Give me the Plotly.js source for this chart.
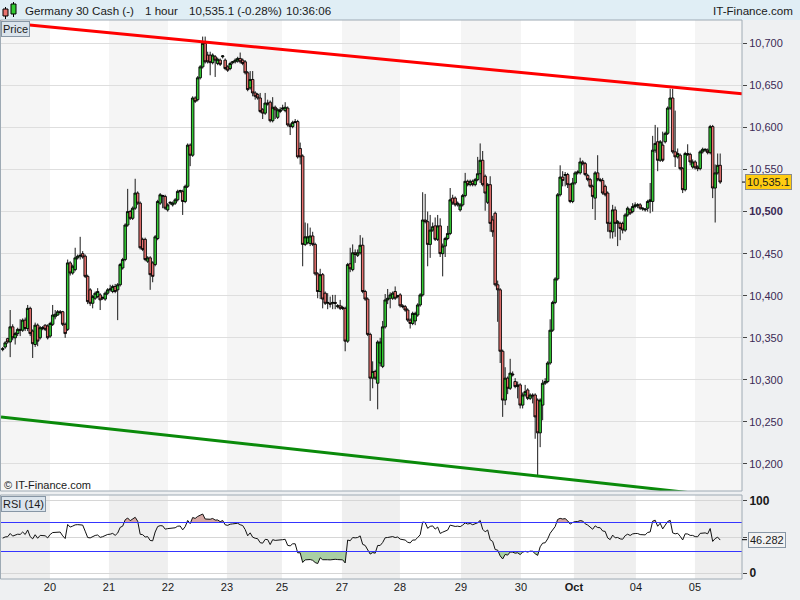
<!DOCTYPE html>
<html><head><meta charset="utf-8">
<script src="https://cdn.plot.ly/plotly-3.0.1.min.js"></script>
<style>html,body{margin:0;padding:0;background:#eef0f2;}#chart{width:800px;height:600px;}</style>
</head><body><div id="chart"></div>
<script>
// ---------- DATA ----------
const O = [10336,10339,10349,10345,10363,10350,10355,10360,10359,10371,10361,10385,10358,10342,10365,10350,10361,10365,10364,10352,
10366,10375,10377,10381,10381,10366,10360,10439,10427,10431,10445,10447,10450,10447,10423,10407,10391,10397,10399,10401,
10397,10396,10403,10407,10405,10411,10407,10413,10433,10443,10484,10500,10492,10504,10522,10510,10467,10467,10441,10445,
10439,10437,10468,10510,10518,10518,10502,10510,10508,10510,10514,10524,10524,10512,10530,10579,10567,10635,10633,10659,
10672,10700,10686,10686,10677,10684,10676,10680,10684,10680,10672,10670,10677,10678,10679,10682,10680,10678,10665,
10647,10657,10641,10639,10635,10621,10617,10629,10630,10608,10624,10612,10619,10622,10620,10623,10603,10601,10607,10607,
10575,10566,10461,10463,10462,10471,10461,10426,10405,10425,10403,10391,10391,10391,10392,10387,10388,10386,10385,10346,
10438,10431,10451,10448,10451,10460,10405,10396,10354,10302,10310,10296,10320,10316,10363,10395,10397,10397,10405,10399,
10401,10388,10387,10383,10371,10367,10370,10377,10389,10401,10490,10488,10461,10478,10483,10467,10483,10450,10459,10468,
10474,10516,10516,10508,10502,10508,10519,10536,10532,10536,10532,10538,10545,10561,10542,10511,10532,10490,
10498,10413,10407,10334,10276,10302,10290,10307,10298,10292,10294,10270,10282,10288,10278,10282,10282,10276,10237,10270,
10296,10298,10320,10359,10392,10420,10520,10541,10543,10544,10532,10512,10534,10546,10546,10559,10557,10543,10538,10530,
10516,10546,10538,10537,10530,10522,10486,10476,10502,10486,10486,10486,10478,10496,10502,10500,10506,10507,10508,10503,
10502,10504,10512,10512,10573,10583,10561,10579,10583,10593,10623,10635,10571,10565,10567,10551,10526,10569,10568,10553,
10559,10553,10551,10571,10573,10573,10570,10601,10528,10546,10555];
const H = [10339,10346,10350,10383,10366,10357,10362,10372,10373,10374,10389,10387,10360,10368,10367,10364,10364,10366,10366,10369,
10389,10383,10383,10383,10382,10368,10443,10441,10437,10457,10449,10470,10453,10449,10425,10409,10401,10405,10409,10403,
10399,10405,10409,10413,10413,10414,10415,10439,10445,10486,10527,10502,10506,10539,10524,10512,10469,10469,10447,10447,
10441,10472,10514,10522,10520,10520,10510,10512,10512,10516,10526,10526,10526,10532,10581,10581,10637,10637,10661,10674,
10708,10708,10690,10690,10688,10686,10683,10682,10686,10682,10674,10678,10679,10682,10684,10689,10682,10680,10667,
10667,10667,10643,10641,10641,10623,10641,10633,10632,10636,10626,10623,10624,10627,10630,10625,10605,10608,10610,10609,
10582,10568,10487,10486,10481,10476,10463,10428,10432,10427,10405,10403,10399,10401,10401,10390,10395,10388,10387,10439,
10457,10461,10455,10455,10472,10469,10407,10398,10356,10322,10312,10347,10350,10370,10402,10408,10404,10405,10411,10401,
10403,10390,10389,10385,10373,10381,10381,10391,10403,10523,10521,10500,10496,10487,10493,10496,10492,10462,10470,10483,
10528,10520,10518,10512,10510,10521,10546,10538,10538,10538,10540,10565,10581,10572,10544,10534,10542,10495,
10500,10418,10409,10336,10315,10304,10325,10310,10302,10298,10296,10285,10294,10290,10284,10284,10284,10278,10278,10300,
10302,10322,10372,10394,10422,10522,10555,10548,10547,10546,10534,10540,10548,10549,10564,10561,10559,10545,10540,10532,
10548,10567,10540,10540,10532,10524,10488,10508,10506,10490,10488,10488,10498,10506,10504,10510,10511,10510,10510,10505,
10504,10514,10534,10590,10603,10600,10585,10595,10595,10625,10646,10646,10620,10575,10569,10553,10571,10580,10570,10562,
10561,10555,10573,10576,10575,10575,10603,10603,10556,10569,10569];
const L = [10334,10337,10343,10327,10347,10342,10352,10352,10357,10358,10358,10352,10326,10339,10340,10348,10359,10358,10348,10350,
10364,10372,10376,10378,10364,10350,10358,10424,10425,10429,10443,10443,10444,10421,10390,10388,10385,10395,10397,10383,
10395,10394,10401,10405,10403,10403,10371,10411,10431,10441,10482,10490,10490,10502,10508,10455,10453,10441,10439,10407,
10416,10435,10466,10508,10504,10502,10500,10508,10506,10508,10512,10522,10496,10510,10528,10554,10565,10629,10631,10657,
10670,10676,10676,10662,10675,10660,10674,10673,10682,10668,10666,10668,10675,10676,10677,10676,10674,10663,10643,
10645,10637,10633,10633,10617,10610,10615,10626,10606,10606,10610,10610,10617,10620,10618,10601,10591,10599,10605,10563,
10556,10435,10459,10461,10459,10459,10424,10397,10396,10385,10389,10384,10386,10384,10384,10385,10383,10383,10334,10344,
10428,10429,10439,10446,10449,10403,10394,10352,10275,10290,10300,10265,10316,10314,10361,10390,10385,10395,10395,10397,
10386,10385,10381,10369,10361,10365,10365,10375,10387,10399,10486,10435,10445,10476,10465,10465,10446,10423,10446,10466,
10472,10508,10506,10506,10500,10506,10517,10530,10530,10530,10530,10536,10534,10530,10501,10509,10476,10470,
10411,10369,10320,10256,10270,10283,10288,10304,10290,10278,10266,10266,10280,10276,10276,10272,10230,10185,10220,10252,
10294,10296,10318,10357,10390,10418,10518,10530,10530,10528,10510,10510,10532,10544,10544,10555,10542,10536,10528,10503,
10490,10536,10535,10520,10518,10476,10468,10468,10470,10459,10466,10474,10476,10494,10496,10498,10504,10504,10502,10501,
10500,10500,10498,10500,10570,10548,10559,10559,10581,10591,10621,10569,10553,10563,10549,10522,10524,10566,10555,10551,
10550,10548,10549,10569,10571,10568,10568,10516,10487,10544,10533];
const C = [10337,10344,10345,10363,10350,10355,10360,10359,10371,10361,10385,10355,10343,10365,10346,10362,10362,10360,10350,10367,
10377,10378,10381,10380,10366,10355,10439,10427,10435,10445,10447,10448,10446,10423,10393,10391,10399,10403,10405,10395,
10398,10403,10407,10408,10411,10405,10413,10437,10443,10484,10500,10492,10504,10522,10510,10457,10455,10443,10445,10425,
10423,10470,10512,10520,10519,10504,10508,10511,10510,10514,10524,10525,10512,10530,10579,10567,10635,10631,10659,10672,
10700,10678,10678,10677,10686,10680,10681,10675,10685,10670,10668,10676,10678,10680,10682,10678,10676,10665,10645,
10657,10641,10637,10635,10619,10617,10629,10628,10608,10624,10621,10621,10621,10623,10624,10603,10601,10606,10606,10565,
10565,10461,10470,10470,10471,10461,10426,10405,10425,10396,10391,10392,10390,10392,10391,10388,10385,10385,10346,10437,
10432,10451,10449,10451,10460,10405,10396,10354,10302,10310,10302,10345,10345,10363,10395,10397,10401,10403,10397,10400,
10388,10387,10383,10371,10367,10379,10379,10389,10401,10490,10488,10461,10478,10482,10467,10483,10450,10459,10468,10474,
10514,10510,10508,10510,10508,10519,10536,10532,10536,10532,10538,10545,10561,10532,10522,10532,10486,10476,
10413,10407,10334,10276,10302,10290,10308,10306,10292,10294,10270,10282,10286,10278,10282,10281,10256,10237,10276,10296,
10298,10320,10359,10392,10420,10520,10541,10537,10544,10532,10512,10534,10546,10547,10559,10557,10544,10538,10530,10518,
10546,10538,10537,10522,10520,10486,10476,10502,10486,10488,10480,10478,10496,10504,10498,10506,10508,10508,10504,10504,
10503,10512,10514,10573,10581,10561,10583,10561,10593,10623,10635,10571,10565,10569,10551,10526,10569,10568,10559,10559,
10552,10551,10571,10574,10574,10570,10601,10528,10546,10555,10535.1];

// day starts (candle index positions) and their labels
const dayStart = [18.9, 42.5, 66.1, 89.7, 111.7, 135.7, 158.9, 183.3, 207.3, 228.5, 253.3, 276.9];
const dayLabels = ['20','21','22','23','25','27','28','29','30','<b>Oct</b>','04','05'];

// trend lines (value at left edge, value at right edge)
const resistanceY = [10725, 10640];
const supportY = [10256, 10159];

const priceTicks = [10200,10250,10300,10350,10400,10450,10500,10550,10600,10650,10700];
const priceTickText = ['10,200','10,250','10,300','10,350','10,400','10,450','<b>10,500</b>','10,550','10,600','10,650','10,700'];
const lastPrice = 10535.1;
const lastPriceText = '10,535.1';
const lastRsi = 46.282;
const rsiUpper = 70, rsiLower = 30;
const rsiPeriod = 14;
const rsiSeed = {gain: 7.5, loss: 8.0};

// ---------- RENDER ----------
const FONT = 'Liberation Sans, Arial, sans-serif';
const W=800, HT=600, ML=1, MR=58, MT=20, MB=21;
const PW=W-ML-MR, PH=HT-MT-MB;
const px = x => (x-ML)/PW;
const py = y => (HT-MB-y)/PH;
const xMin = -0.67, xMax = -0.67 + PW/2.5;
const idx = C.map((_, i) => i);

function wilderRSI(closes, n, seed){
  let ag = seed.gain, al = seed.loss;
  const out = [100 - 100/(1+ag/al)];
  for (let i=1;i<closes.length;i++){
    const d = closes[i]-closes[i-1];
    ag = (ag*(n-1) + Math.max(d,0))/n;
    al = (al*(n-1) + Math.max(-d,0))/n;
    out.push(al===0 ? 100 : 100 - 100/(1+ag/al));
  }
  return out;
}
const rsi = wilderRSI(C, rsiPeriod, rsiSeed);

// closed polygons for the parts of the RSI beyond a level (sign=+1 above, -1 below)
function zone(level, sign){
  const xs=[], ys=[];
  const beyond = v => sign*(v-level) > 0;
  let i=0;
  while (i<rsi.length){
    if (!beyond(rsi[i])) { i++; continue; }
    const run=[];
    const s=i;
    if (s>0){ const t=(level-rsi[s-1])/(rsi[s]-rsi[s-1]); run.push([s-1+t, level]); }
    else run.push([s, level]);
    while (i<rsi.length && beyond(rsi[i])) { run.push([i, rsi[i]]); i++; }
    if (i<rsi.length){ const t=(level-rsi[i-1])/(rsi[i]-rsi[i-1]); run.push([i-1+t, level]); }
    else run.push([i-1, level]);
    run.forEach(p=>{xs.push(p[0]); ys.push(p[1]);});
    xs.push(run[0][0]); ys.push(level);
    xs.push(null); ys.push(null);
  }
  return {xs, ys};
}
const hiZone = zone(rsiUpper, 1), loZone = zone(rsiLower, -1);

const traces = [
  {type:'candlestick', x:idx, open:O, high:H, low:L, close:C, xaxis:'x', yaxis:'y',
   increasing:{line:{color:'#000000',width:0.9}, fillcolor:'#33cc33'},
   decreasing:{line:{color:'#000000',width:0.9}, fillcolor:'#e8726f'},
   whiskerwidth:0, hoverinfo:'skip'},
  {type:'scatter', mode:'lines', x:[xMin,xMax], y:resistanceY, line:{color:'#ff0000',width:3}, xaxis:'x', yaxis:'y', hoverinfo:'skip'},
  {type:'scatter', mode:'lines', x:[xMin,xMax], y:supportY, line:{color:'#0a8a0a',width:3}, xaxis:'x', yaxis:'y', hoverinfo:'skip'},
  {type:'scatter', mode:'none', x:hiZone.xs, y:hiZone.ys, fill:'toself', fillcolor:'#d6a9a6', xaxis:'x', yaxis:'y2', hoverinfo:'skip'},
  {type:'scatter', mode:'none', x:loZone.xs, y:loZone.ys, fill:'toself', fillcolor:'#a9cfa3', xaxis:'x', yaxis:'y2', hoverinfo:'skip'},
  {type:'scatter', mode:'lines', x:idx, y:rsi, line:{color:'#111111',width:1}, xaxis:'x', yaxis:'y2', hoverinfo:'skip'},
  {type:'scatter', mode:'lines', x:[xMin,xMax,null,xMin,xMax], y:[rsiUpper,rsiUpper,null,rsiLower,rsiLower],
   line:{color:'#3535ff',width:1}, xaxis:'x', yaxis:'y2', hoverinfo:'skip', connectgaps:false}
];

const shapes = [];
// day bands
const edges = [xMin, ...dayStart, xMax];
for (let k=0;k<edges.length-1;k++){
  if (k%2===0){
    shapes.push({type:'rect', xref:'x', yref:'y domain', x0:edges[k], x1:edges[k+1], y0:0, y1:1, fillcolor:'#f5f5f5', line:{width:0}, layer:'below'});
    shapes.push({type:'rect', xref:'x', yref:'y2 domain', x0:edges[k], x1:edges[k+1], y0:0, y1:1, fillcolor:'#efefef', line:{width:0}, layer:'below'});
  }
}
// header
shapes.push({type:'rect', xref:'paper', yref:'paper', x0:px(0), x1:px(800), y0:py(20), y1:py(0), fillcolor:'#e0eef5', line:{width:0}, layer:'above'});
// pane borders
shapes.push({type:'rect', xref:'paper', yref:'paper', x0:px(0.5), x1:px(742), y0:py(491), y1:py(20), line:{color:'#9eaab4',width:1}, layer:'above'});
shapes.push({type:'rect', xref:'paper', yref:'paper', x0:px(0.5), x1:px(742), y0:py(579), y1:py(495), line:{color:'#9eaab4',width:1}, layer:'above'});
// candle icon
shapes.push({type:'line', xref:'paper', yref:'paper', x0:px(5.5), x1:px(5.5), y0:py(19), y1:py(7), line:{color:'#000',width:1}, layer:'above'});
shapes.push({type:'rect', xref:'paper', yref:'paper', x0:px(3), x1:px(8), y0:py(16), y1:py(9), fillcolor:'#e8726f', line:{color:'#000',width:1}, layer:'above'});
shapes.push({type:'line', xref:'paper', yref:'paper', x0:px(13.5), x1:px(13.5), y0:py(17), y1:py(2), line:{color:'#000',width:1}, layer:'above'});
shapes.push({type:'rect', xref:'paper', yref:'paper', x0:px(11), x1:px(16), y0:py(14), y1:py(4), fillcolor:'#33cc33', line:{color:'#000',width:1}, layer:'above'});
// current-value ticks
shapes.push({type:'line', xref:'paper', yref:'y', x0:px(742), x1:px(747), y0:lastPrice, y1:lastPrice, line:{color:'#000',width:1}});
shapes.push({type:'line', xref:'paper', yref:'y2', x0:px(742), x1:px(747), y0:lastRsi, y1:lastRsi, line:{color:'#000',width:1}});

const HF = {family:FONT,size:11.6,color:'#1a1a1a'};
const annotations = [
  {xref:'paper', yref:'paper', x:px(23), y:py(10), xanchor:'left', yanchor:'middle', showarrow:false, text:'Germany 30 Cash (-)', font:HF},
  {xref:'paper', yref:'paper', x:px(143), y:py(10), xanchor:'left', yanchor:'middle', showarrow:false, text:'1 hour', font:HF},
  {xref:'paper', yref:'paper', x:px(187), y:py(10), xanchor:'left', yanchor:'middle', showarrow:false, text:'10,535.1 (-0.28%)', font:HF},
  {xref:'paper', yref:'paper', x:px(284), y:py(10), xanchor:'left', yanchor:'middle', showarrow:false, text:'10:36:06', font:HF},
  {xref:'paper', yref:'paper', x:px(795), y:py(10), xanchor:'right', yanchor:'middle', showarrow:false, text:'IT-Finance.com', font:HF},
  {xref:'paper', yref:'paper', x:px(1), y:py(21), xanchor:'left', yanchor:'top', showarrow:false, text:'Price', font:{family:FONT,size:11,color:'#1a1a1a'}, bgcolor:'#dbe4ec', bordercolor:'#8796a5', borderwidth:1, borderpad:1},
  {xref:'paper', yref:'paper', x:px(1), y:py(496), xanchor:'left', yanchor:'top', showarrow:false, text:'RSI (14)', font:{family:FONT,size:11,color:'#1a1a1a'}, bgcolor:'#dbe4ec', bordercolor:'#8796a5', borderwidth:1, borderpad:1},
  {xref:'paper', yref:'paper', x:px(2), y:py(485), xanchor:'left', yanchor:'middle', showarrow:false, text:'© IT-Finance.com', font:{family:FONT,size:11,color:'#1a1a1a'}},
  {xref:'paper', yref:'y', x:px(745), y:lastPrice, xanchor:'left', yanchor:'middle', showarrow:false, text:lastPriceText, font:{family:FONT,size:11,color:'#1a1a1a'}, bgcolor:'#ffcc11', bordercolor:'#8a8a8a', borderwidth:1, borderpad:1},
  {xref:'paper', yref:'y2', x:px(748), y:lastRsi, xanchor:'left', yanchor:'middle', showarrow:false, text:String(lastRsi), font:{family:FONT,size:11,color:'#1a1a1a'}, bgcolor:'#f2f2f2', bordercolor:'#8796a5', borderwidth:1, borderpad:1}
];

const layout = {
  width:W, height:HT, margin:{l:ML,r:MR,t:MT,b:MB,pad:0},
  paper_bgcolor:'#eef0f2', plot_bgcolor:'#ffffff', showlegend:false,
  font:{family:FONT,size:11,color:'#1a1a1a'}, boxgap:0, boxgroupgap:0,
  xaxis:{range:[xMin,xMax], anchor:'y2', tickvals:dayStart, ticktext:dayLabels, ticks:'', showgrid:false, zeroline:false,
         showline:false, rangeslider:{visible:false}, tickfont:{family:FONT,size:11,color:'#1a1a1a'}, fixedrange:true},
  yaxis:{domain:[py(491),1], range:[10167.9,10727.7], side:'right', anchor:'x', tickvals:priceTicks, ticktext:priceTickText,
         ticks:'outside', ticklen:4, tickcolor:'#444', gridcolor:'#dedede', zeroline:false, showline:false,
         tickfont:{family:FONT,size:11,color:'#3b2a55'}, fixedrange:true},
  yaxis2:{domain:[0,py(495)], range:[-7.93,107.93], side:'right', anchor:'x', tickvals:[0,50,100], ticktext:['<b>0</b>','','<b>100</b>'],
          ticks:'outside', ticklen:4, tickcolor:'#444', gridcolor:'#d6d6d6', zeroline:false, showline:false,
          tickfont:{family:FONT,size:12,color:'#1a1a1a'}, fixedrange:true},
  shapes, annotations
};
Plotly.newPlot('chart', traces, layout, {staticPlot:true, displayModeBar:false});
</script></body></html>
